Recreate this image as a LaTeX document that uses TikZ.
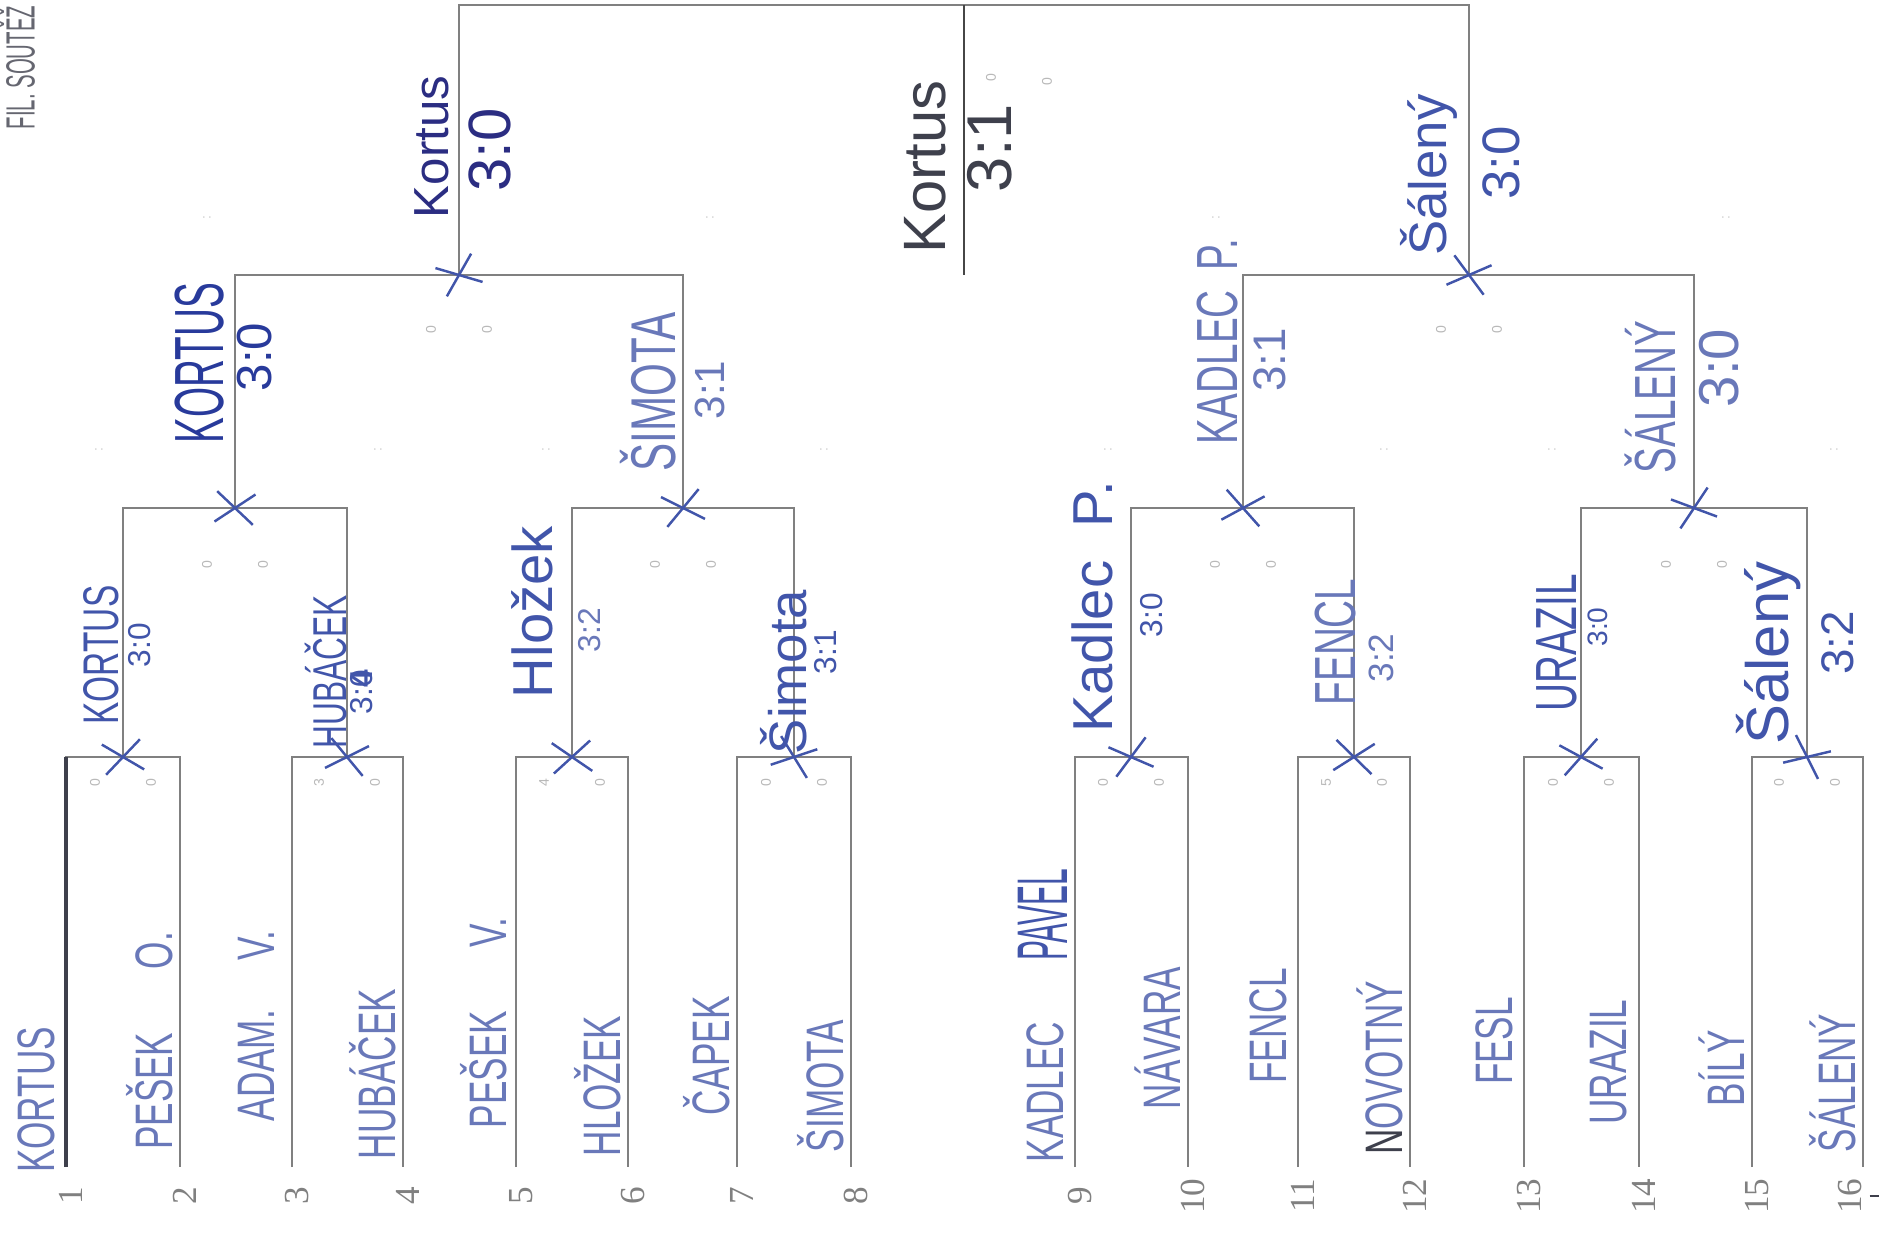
\documentclass[tikz,border=0pt]{standalone}
\usepackage{fontspec}
\setmainfont{Liberation Sans}
\newfontfamily\numfont{Liberation Serif}
\usetikzlibrary{shapes.misc, positioning}

\definecolor{printgray}{RGB}{128,128,128}
\definecolor{penblue}{RGB}{105,120,185}
\definecolor{inkblue}{RGB}{65,85,170}
\definecolor{deepblue}{RGB}{40,58,155}
\definecolor{inkgray}{RGB}{62,64,76}

\begin{document}
\begin{tikzpicture}[x=0.01cm, y=-0.01cm,
    bracket/.style={draw=printgray, line width=0.7pt},
    player/.style={rotate=90, inner sep=0pt, text=penblue, yscale=1.5,
                   font=\fontsize{10}{12}\selectfont},
    winner/.style={rotate=90, inner sep=0pt, text=inkblue,
                   font=\fontsize{16}{18}\selectfont},
    score/.style={rotate=90, inner sep=0pt, text=inkblue,
                  font=\fontsize{12}{14}\selectfont},
    seed/.style={rotate=90, inner sep=0pt, text=printgray,
                 font=\numfont\fontsize{10}{12}\selectfont},
    dig/.style={rotate=90, inner sep=0pt, text=printgray!55,
                font=\fontsize{4}{5}\selectfont},
    hit/.style={cross out, draw=inkblue, line width=0.7pt, inner sep=0pt,
                minimum width=0.36cm, minimum height=0.28cm},
  ]
  \useasboundingbox (0,0) rectangle (1881,1239);

  % seeds and their lines
  \foreach \i/\xx/\nx in {1/66/71, 2/180/185, 3/292/297, 4/403/408, 5/516/521,
                          6/628/633, 7/737/742, 8/851/856, 9/1075/1080,
                          10/1188/1193, 11/1298/1303, 12/1410/1415,
                          13/1524/1529, 14/1639/1644, 15/1752/1757,
                          16/1863/1850} {
    \coordinate (p\i) at (\xx,1167);
    \node[seed] (n\i) at (\nx,1196) {\i};
  }
  \coordinate (dash) at (1879,1199);

  % junctions
  \foreach \c/\xx/\yy in {j1/123/757, j2/347/757, j3/572/757, j4/794/757,
                          j5/1131/757, j6/1354/757, j7/1581/757, j8/1807/757,
                          k1/235/508, k2/683/508, k3/1243/508, k4/1694/508,
                          q1/459/275, q2/1469/275}
    \coordinate (\c) at (\xx,\yy);
  \coordinate (top) at (964,5);
  \coordinate (fin) at (964,275);

  \foreach \a/\b/\j in {1/2/1, 3/4/2, 5/6/3, 7/8/4, 9/10/5, 11/12/6,
                        13/14/7, 15/16/8}
    \draw[bracket] (p\a) |- (j\j) -| (p\b);
  \foreach \a/\b/\k in {j1/j2/k1, j3/j4/k2, j5/j6/k3, j7/j8/k4,
                        k1/k2/q1, k3/k4/q2, q1/q2/top}
    \draw[bracket] (\a) |- (\k) -| (\b);
  \draw[bracket, draw=printgray!55!black, line width=0.8pt] (top) -- (fin);
  \draw[bracket, draw=inkgray, line width=0.9pt] (p1) -- (66,757);
  \draw[bracket, draw=inkgray] ([xshift=2pt]n16.south) -- (n16.south -| dash);

  % winner crosses
  \foreach \c/\r in {j1/8, j2/-12, j3/4, j4/-20, j5/15, j6/-6, j7/10, j8/-25,
                     k1/-5, k2/12, k3/-10, k4/18, q1/22, q2/-15}
    \node[hit, rotate=\r] (x-\c) at (\c) {};

  % printed set counters
  \foreach \c/\xx/\yy/\l/\r in {j1/123/783/0/0, j2/347/783/3/0, j3/572/783/4/0,
                                j4/794/783/0/0, j5/1131/783/0/0, j6/1354/783/5/0,
                                j7/1581/783/0/0, j8/1807/783/0/0,
                                k1/235/565/0/0, k2/683/565/0/0, k3/1243/565/0/0,
                                k4/1694/565/0/0, q1/459/330/0/0, q2/1469/330/0/0} {
    \node[dig] (\c-l) at (\xx-28,\yy) {\l};
    \node[dig] (\c-r) at (\xx+28,\yy) {\r};
  }
  \node[dig] (f-l) at (991,78) {0};
  \node[dig] (f-r) at (1047,82) {0};
  \foreach \xx/\yy [count=\n] in {99/450, 378/450, 546/450, 824/450, 1108/450,
                                  1384/450, 1552/450, 1834/450, 207/218,
                                  710/218, 1216/218, 1726/218}
    \node[dig, text=printgray!40] (dots\n) at (\xx,\yy) {:};

  % entered names
  \node[player] (s1) at (36,1100) {KORTUS};
  \node[player] (s2) at (150,1041) {PEŠEK\hspace{1.8em}O.};
  \node[player] (s3) at (256,1026) {ADAM.\hspace{1.4em}V.};
  \node[player] (s4) at (373,1074) {HUBÁČEK};
  \node[player] (s5) at (484,1023) {PEŠEK\hspace{1.8em}V.};
  \node[player] (s6) at (598,1086) {HLOŽEK};
  \node[player] (s7) at (707,1056) {ČAPEK};
  \node[player] (s8) at (821,1086) {ŠIMOTA};
  \node[player] (s9) at (1045,1092) {KADLEC};
  \node[player, text=inkblue, font=\fontsize{8.5}{10}\selectfont, yscale=1.6] (s9b) at (1043,915) {PAVEL};
  \node[player] (s10) at (1158,1038) {NÁVARA};
  \node[player] (s11) at (1268,1026) {FENCL};
  \node[player] (s12) at (1380,1068) {{\color{inkgray}N}OVOTNÝ};
  \node[player] (s13) at (1494,1041) {FESL};
  \node[player] (s14) at (1609,1062) {URAZIL};
  \node[player] (s15) at (1722,1068) {BÍLÝ};
  \node[player] (s16) at (1833,1083) {ŠÁLENÝ};

  % first round
  \node[player, text=inkblue, font=\fontsize{9.5}{11}\selectfont] (w1) at (101,655) {KORTUS};
  \node[score, font=\fontsize{9}{11}\selectfont] (r1) at (140,645) {3:0};
  \node[player, text=inkblue, font=\fontsize{9}{11}\selectfont] (w2) at (326,672) {HUBÁČEK};
  \node[score, font=\fontsize{9}{11}\selectfont] (r2) at (362,692) {3:\rlap{0}\textbf{4}};
  \node[winner] (w3) at (532,612) {Hložek};
  \node[score, text=penblue, font=\fontsize{9}{11}\selectfont] (r3) at (590,630) {3:2};
  \node[winner, font=\fontsize{15}{17}\selectfont] (w4) at (784,672) {Šimota};
  \node[score, font=\fontsize{9}{11}\selectfont] (r4) at (826,652) {3:1};
  \node[winner] (w5) at (1092,607) {Kadlec\hspace{0.6em}P.};
  \node[score, font=\fontsize{9}{11}\selectfont] (r5) at (1152,615) {3:0};
  \node[player, text=penblue, font=\fontsize{11}{13}\selectfont] (w6) at (1336,642) {FENCL};
  \node[score, text=penblue, font=\fontsize{10}{12}\selectfont] (r6) at (1381,658) {3:2};
  \node[player, text=inkblue, font=\fontsize{11}{13}\selectfont] (w7) at (1557,643) {URAZIL};
  \node[score, font=\fontsize{8}{10}\selectfont] (r7) at (1598,627) {3:0};
  \node[winner, font=\fontsize{17}{19}\selectfont] (w8) at (1769,653) {Šálený};
  \node[score, font=\fontsize{13}{15}\selectfont] (r8) at (1838,643) {3:2};

  % second round
  \node[player, text=deepblue, font=\fontsize{11}{13}\selectfont, yscale=1.2] (v1) at (200,363) {KORTUS};
  \node[score, text=deepblue, font=\fontsize{14}{16}\selectfont] (t1) at (255,357) {3:0};
  \node[player, font=\fontsize{12}{14}\selectfont, yscale=1] (v2) at (648,392) {ŠIMOTA};
  \node[score, text=penblue] (t2) at (710,390) {3:1};
  \node[player, font=\fontsize{11}{13}\selectfont] (v3) at (1218,342) {KADLEC\hspace{0.5em}P.};
  \node[score, text=penblue, font=\fontsize{13}{15}\selectfont] (t3) at (1270,360) {3:1};
  \node[player, font=\fontsize{11}{13}\selectfont] (v4) at (1650,397) {ŠÁLENÝ};
  \node[score, text=penblue, font=\fontsize{16}{18}\selectfont] (t4) at (1719,368) {3:0};

  % semifinals
  \node[winner, text=inkgray!70!blue, font=\fontsize{14}{16}\selectfont] (u1) at (432,147) {Kortus};
  \node[score, text=inkgray!70!blue, font=\fontsize{17}{19}\selectfont] (z1) at (490,150) {3:0};
  \node[winner, font=\fontsize{15}{17}\selectfont] (u2) at (1429,175) {Šálený};
  \node[score, font=\fontsize{15}{17}\selectfont] (z2) at (1501,163) {3:0};

  % final
  \node[winner, text=inkgray, font=\fontsize{17}{19}\selectfont] (champ) at (925,167) {Kortus};
  \node[score, text=inkgray, font=\fontsize{18}{20}\selectfont] (fs) at (990,148) {3:1};

  \node[rotate=90, anchor=west, inner sep=0pt, text=inkgray!80, yscale=2,
        font=\fontsize{5.8}{7}\selectfont] (title) at (17,130) {FIL. SOUTĚŽ};
\end{tikzpicture}
\end{document}
